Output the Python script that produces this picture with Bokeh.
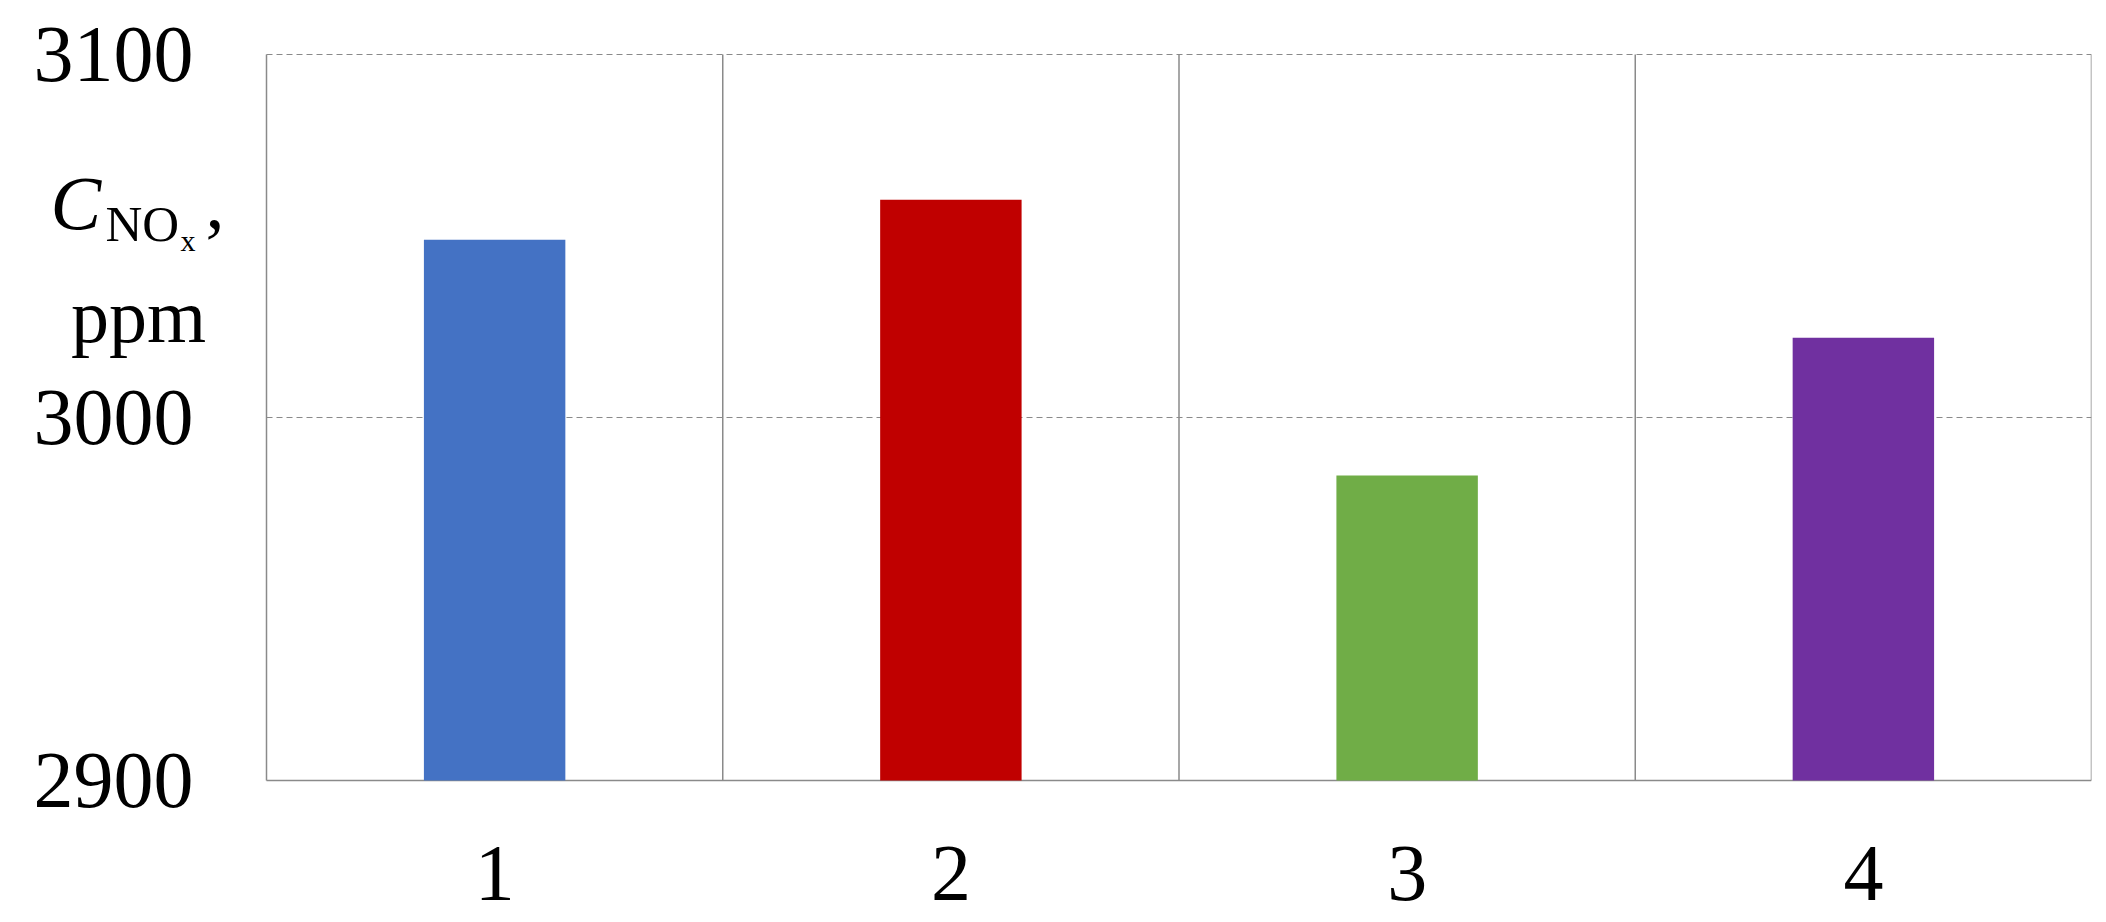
from bokeh.plotting import figure
from bokeh.models import FixedTicker, Range1d, Label, ColumnDataSource
from bokeh.embed import file_html
from bokeh.resources import INLINE

categories = ["1", "2", "3", "4"]
positions = [1, 2, 3, 4]
values = [3049, 3060, 2984, 3022]
colors = ["#4472C4", "#C00000", "#70AD47", "#7030A0"]
y_ticks = [2900, 3000, 3100]
y_labels = ["2900", "3000", "3100"]
dashed_levels = [3000, 3100]
cell_bounds = [0.5, 1.5, 2.5, 3.5, 4.5]

SERIF = "Liberation Serif"
GRAY = "#8a8a8a"

# layout constants (pixels)
W, H = 2106, 922
PLOT_LEFT, PLOT_TOP, PLOT_RIGHT, PLOT_BOTTOM = 266, 54, 2091, 780
FRAME_BOTTOM = 822
Y0, Y1 = 2900, 3100
X0, X1 = 0.5, 4.5
px_per_x = (PLOT_RIGHT - PLOT_LEFT) / (X1 - X0)
px_per_y = (PLOT_BOTTOM - PLOT_TOP) / (Y1 - Y0)
x_start = X0 - PLOT_LEFT / px_per_x
y_end = Y1 + PLOT_TOP / px_per_y
y_start = Y0 - (FRAME_BOTTOM - PLOT_BOTTOM) / px_per_y

src = ColumnDataSource(dict(x=positions, top=values, color=colors, label=categories))

p = figure(width=W, height=H, output_backend="svg", toolbar_location=None,
           x_range=Range1d(x_start, X1), y_range=Range1d(y_start, y_end),
           y_axis_location=None,
           min_border_left=0, min_border_top=0, min_border_bottom=H - FRAME_BOTTOM,
           min_border_right=W - PLOT_RIGHT)
p.outline_line_color = None
p.background_fill_color = "white"
p.grid.visible = False

# cell borders (solid) and dashed value lines
p.segment(x0=cell_bounds, y0=[Y0] * len(cell_bounds), x1=cell_bounds, y1=[Y1] * len(cell_bounds),
          line_color=GRAY, line_width=1.5)
p.segment(x0=[X0, X0], y0=dashed_levels, x1=[X1, X1], y1=dashed_levels,
          line_color=GRAY, line_width=1.2, line_dash="6 4")
p.segment(x0=[X0], y0=[Y0], x1=[X1], y1=[Y0], line_color=GRAY, line_width=1.5)

p.vbar(x="x", top="top", bottom=Y0, width=0.31, fill_color="color", line_color=None, source=src)

# x axis
p.xaxis.ticker = FixedTicker(ticks=positions)
p.xaxis.major_label_overrides = {pos: lab for pos, lab in zip(positions, categories)}
p.xaxis.major_tick_line_color = None
p.xaxis.minor_tick_line_color = None
p.xaxis.axis_line_color = None
p.xaxis.major_label_text_font = SERIF
p.xaxis.major_label_text_font_size = "80px"
p.xaxis.major_label_text_color = "black"
p.xaxis.major_label_standoff = 60 - (FRAME_BOTTOM - PLOT_BOTTOM)

# y tick labels
for v, t in zip(y_ticks, y_labels):
    p.add_layout(Label(x=X0, y=v, x_offset=-73, text=t, text_font=SERIF, text_font_size="80px",
                       text_align="right", text_baseline="middle", text_color="black"))

# y-axis title: C_{NO_x}, ppm (anchored at the top-left plot corner, offsets in pixels)
def lab(text, dx, dy, size, style="normal", align="left"):
    p.add_layout(Label(x=X0, y=Y1, x_offset=dx, y_offset=dy, text=text,
                       text_font=SERIF, text_font_size=f"{size}px", text_font_style=style,
                       text_align=align, text_baseline="alphabetic", text_color="black"))

lab("C", -216, -148, 76, "italic")
lab("NO", -161, -169, 51)
lab("x", -86, -186, 30)
lab(",", -61, -148, 76)
lab("ppm", -128, -261, 76, align="center")

open("out.html", "w").write(file_html(p, INLINE))
